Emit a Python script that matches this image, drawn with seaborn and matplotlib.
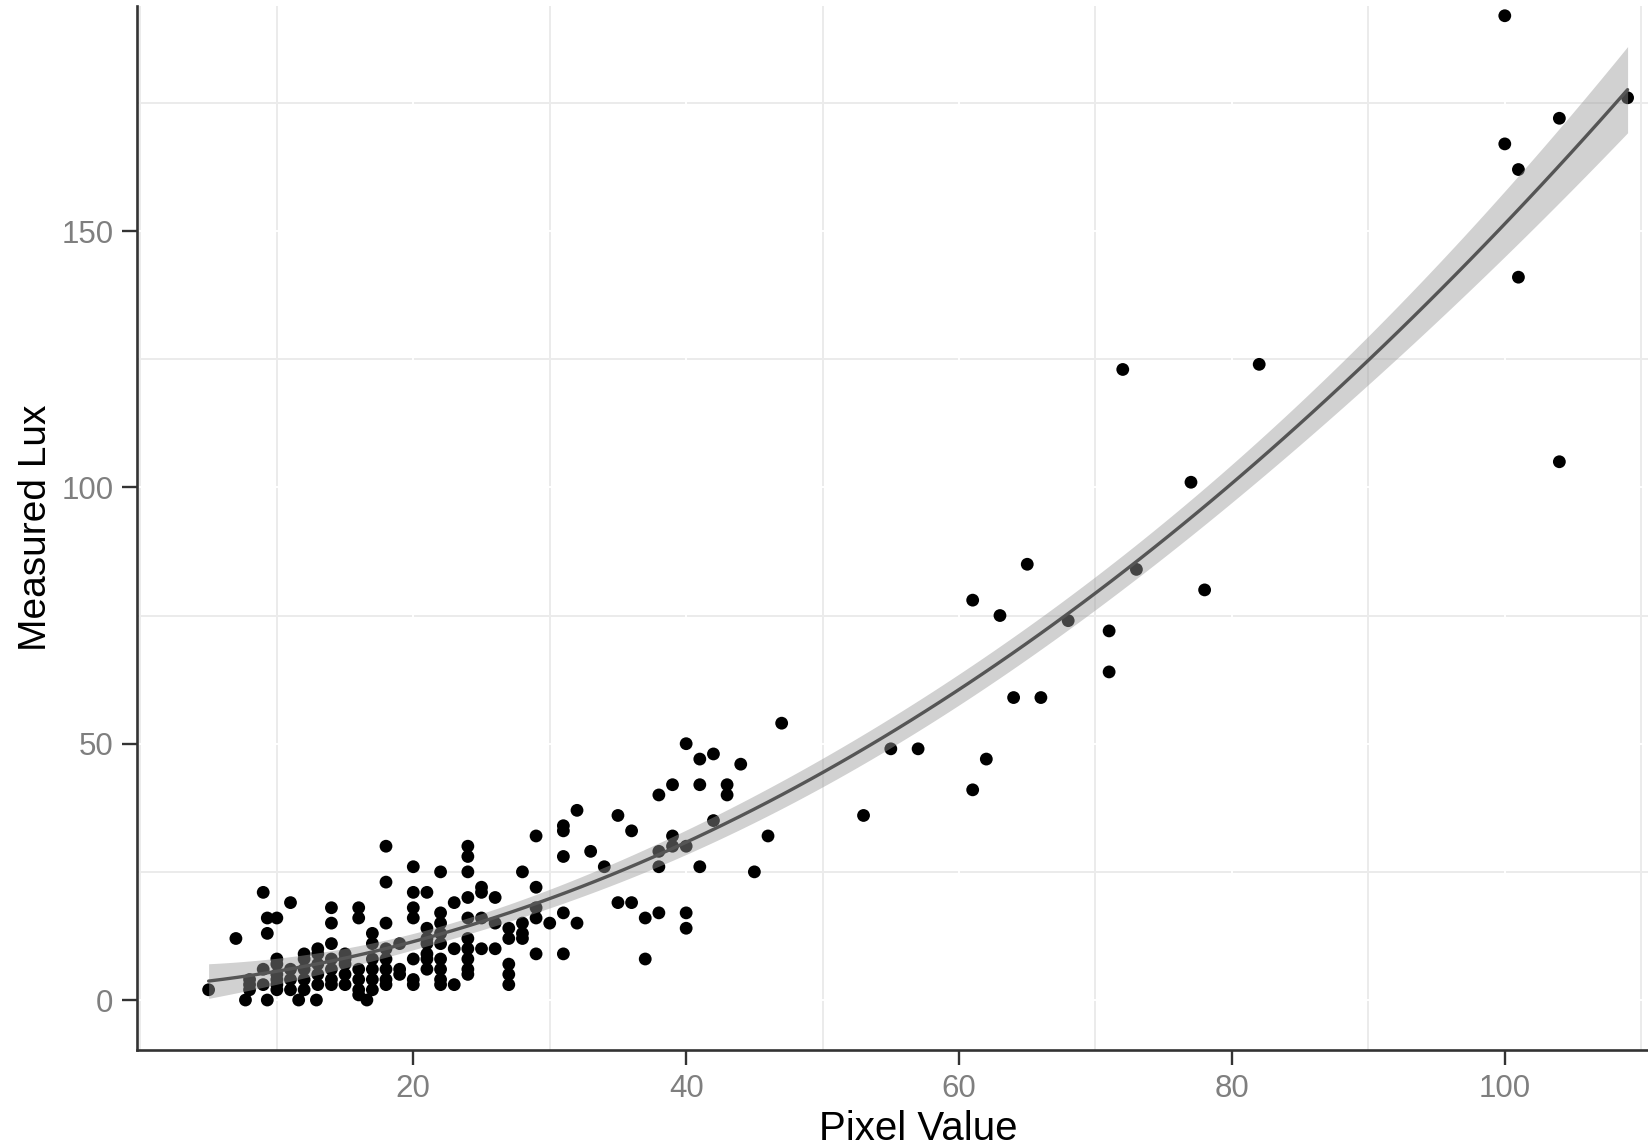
import matplotlib
matplotlib.use("Agg")
import matplotlib.pyplot as plt
from matplotlib.ticker import MultipleLocator, FixedLocator
import seaborn as sns
import pandas as pd
import numpy as np

# values, one line per column of dots
pixel_value = [
    5,
    7,
    7.7,
    8, 8, 8,
    9, 9, 9,
    9.3, 9.3, 9.3,
    10, 10, 10, 10, 10, 10, 10,
    11, 11, 11, 11,
    11.6,
    12, 12, 12, 12, 12,
    12.9,
    13, 13, 13, 13, 13,
    14, 14, 14, 14, 14, 14, 14,
    15, 15, 15, 15, 15,
    16, 16, 16, 16, 16, 16,
    16.6,
    17, 17, 17, 17, 17, 17,
    18, 18, 18, 18, 18, 18, 18, 18,
    19, 19, 19,
    20, 20, 20, 20, 20, 20, 20,
    21, 21, 21, 21, 21, 21, 21,
    22, 22, 22, 22, 22, 22, 22, 22, 22,
    23, 23, 23,
    24, 24, 24, 24, 24, 24, 24, 24, 24, 24,
    25, 25, 25, 25,
    26, 26, 26,
    27, 27, 27, 27, 27,
    28, 28, 28, 28,
    29, 29, 29, 29, 29,
    30,
    31, 31, 31, 31, 31,
    32, 32,
    33,
    34,
    35, 35,
    36, 36,
    37, 37,
    38, 38, 38, 38,
    39, 39, 39,
    40, 40, 40, 40,
    41, 41, 41,
    42, 42,
    43, 43,
    44,
    45,
    46,
    47,
    53, 55, 57,
    61, 61, 62, 63, 64, 65, 66, 68,
    71, 71, 72, 73, 77, 78, 82,
    100, 100, 101, 101, 104, 104, 109,
]
measured_lux = [
    2,
    12,
    0,
    4, 3, 2,
    21, 6, 3,
    16, 13, 0,
    16, 8, 7, 5, 4, 3, 2,
    19, 6, 4, 2,
    0,
    9, 8, 6, 4, 2,
    0,
    10, 9, 7, 5, 3,
    18, 15, 11, 8, 6, 4, 3,
    9, 8, 7, 5, 3,
    18, 16, 6, 4, 2, 1,
    0,
    13, 11, 8, 6, 4, 2,
    30, 23, 15, 10, 8, 6, 4, 3,
    11, 6, 5,
    26, 21, 18, 16, 8, 4, 3,
    21, 14, 12, 11, 9, 8, 6,
    25, 17, 15, 13, 11, 8, 6, 4, 3,
    19, 10, 3,
    30, 28, 25, 20, 16, 12, 10, 8, 6, 5,
    22, 21, 16, 10,
    20, 15, 10,
    14, 12, 7, 5, 3,
    25, 15, 13, 12,
    32, 22, 18, 16, 9,
    15,
    34, 33, 28, 17, 9,
    37, 15,
    29,
    26,
    36, 19,
    33, 19,
    16, 8,
    40, 29, 26, 17,
    42, 32, 30,
    50, 30, 17, 14,
    47, 42, 26,
    48, 35,
    42, 40,
    46,
    25,
    32,
    54,
    36, 49, 49,
    78, 41, 47, 75, 59, 85, 59, 74,
    72, 64, 123, 84, 101, 80, 124,
    192, 167, 162, 141, 172, 105, 176,
]
x_ticks = [20, 40, 60, 80, 100]
y_ticks = [0, 50, 100, 150]

df = pd.DataFrame({"Pixel Value": pixel_value, "Measured Lux": measured_lux})

# quadratic lm with the usual (analytic) 95% band, like geom_smooth
x = df["Pixel Value"].values
y = df["Measured Lux"].values
X = np.column_stack([np.ones_like(x), x, x ** 2])
beta, rss, _, _ = np.linalg.lstsq(X, y, rcond=None)
sigma2 = rss[0] / (len(x) - 3)
cov = np.linalg.inv(X.T @ X) * sigma2
grid = np.linspace(x.min(), x.max(), 200)
G = np.column_stack([np.ones_like(grid), grid, grid ** 2])
fit = G @ beta
se = np.sqrt(np.einsum("ij,jk,ik->i", G, cov, G))

sns.set_theme(style="white")
plt.rcParams["font.family"] = ["Liberation Sans", "DejaVu Sans"]

W, H = 1649, 1148
fig = plt.figure(figsize=(W / 100, H / 100), dpi=100)
# the original panel runs past the right and top edges of the picture
ax = fig.add_axes([137 / W, 1 - 1050 / H, 1 - 137 / W, (1050 - 6) / H])

sns.scatterplot(data=df, x="Pixel Value", y="Measured Lux", color="black",
                s=85, edgecolor="none", ax=ax)
ax.fill_between(grid, fit - 1.97 * se, fit + 1.97 * se, color="#999999",
                alpha=0.45, lw=0, zorder=1.5)
sns.regplot(data=df, x="Pixel Value", y="Measured Lux", order=2,
            scatter=False, ci=None, color="#555555",
            line_kws={"lw": 2.4, "zorder": 2}, ax=ax)

ax.set_xlim(-0.25, 110.57)
ax.set_ylim(-9.75, 193.9)
ax.xaxis.set_major_locator(FixedLocator(x_ticks))
ax.yaxis.set_major_locator(FixedLocator(y_ticks))
ax.xaxis.set_minor_locator(MultipleLocator(10))
ax.yaxis.set_minor_locator(MultipleLocator(25))

# light minor grid, white major grid cut through it
ax.set_axisbelow(True)
ax.grid(which="minor", color="#ebebeb", lw=1.4)
ax.grid(which="major", visible=False)
for v in x_ticks:
    ax.axvline(v, color="white", lw=1.4, zorder=0.6)
for v in y_ticks:
    ax.axhline(v, color="white", lw=1.4, zorder=0.6)

for side in ["top", "right"]:
    ax.spines[side].set_visible(False)
for side in ["left", "bottom"]:
    ax.spines[side].set_color("#333333")
    ax.spines[side].set_linewidth(1.9)

ax.tick_params(which="major", direction="out", length=11, width=1.7,
               color="#333333", labelsize=22.5, labelcolor="#7f7f7f",
               pad=6, bottom=True, left=True)
ax.tick_params(which="minor", length=0)

ax.set_xlabel("Pixel Value", fontsize=29, color="black")
ax.set_ylabel("Measured Lux", fontsize=28, color="black")
ax.xaxis.set_label_coords(0.5166, -0.057)
ax.yaxis.set_label_coords(-0.055, 0.5)

fig.savefig("out.png", dpi=100)
